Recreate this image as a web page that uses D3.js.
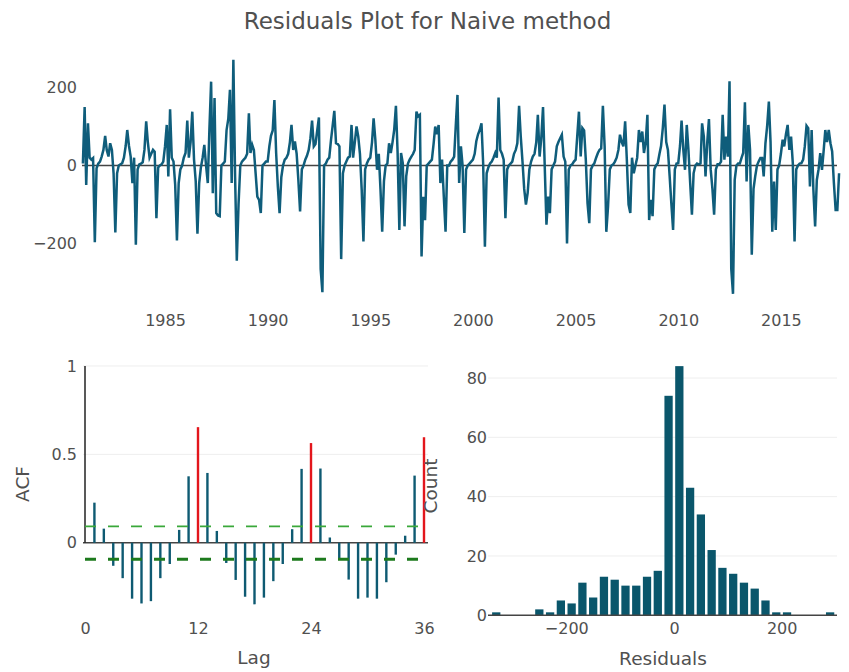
<!DOCTYPE html>
<html>
<head>
<meta charset="utf-8">
<script src="https://cdn.jsdelivr.net/npm/d3@7"></script>
<style>
  body { margin: 0; background: white; }
  svg { display: block; }
</style>
</head>
<body>
<div id="chart"></div>
<script>
// Monthly residuals of the naive forecast, Jan 1981 onwards
var residuals = [
  5, 150, -50, 108, 20, 15, 19, -197, -7, 5, 10, 23,        // 1981
  40, 76, 40, 23, 57, 40, -20, -172, -20, 0, 3, 6,          // 1982
  20, 50, 91, 50, 23, -45, 20, -203, -10, 3, 5, 8,          // 1983
  40, 113, 60, 20, 30, 40, 35, -135, -5, 0, 3, 10,          // 1984
  49, 104, -28, 144, 20, 10, -50, -192, -45, -10, 0, 20,    // 1985
  32, 115, 20, 60, 138, 15, -40, -175, -45, -5, 20, 53,     // 1986
  0, -45, 90, 215, -71, 173, -122, -128, -130, 0, 5, 10,    // 1987
  91, 120, 194, -45, 271, -30, -244, -100, 0, 10, 15, 20,   // 1988
  30, 134, 32, 53, 40, -20, -80, -88, -122, 0, 5, 10,       // 1989
  10, 50, 76, 90, 168, 32, -54, -122, -30, 0, 15, 20,       // 1990
  30, 60, 104, 40, 62, 30, -37, -118, -10, 0, 15, 25,       // 1991
  40, 70, 115, 49, 55, 90, 123, -265, -325, 0, 5, 15,       // 1992
  20, 66, 100, 140, 57, 55, 49, -240, -20, 0, 10, 20,       // 1993
  23, 104, 20, 60, 100, 74, 30, -62, -195, -10, 5, 15,      // 1994
  20, 60, 121, 66, -11, 30, -60, -170, -40, 0, 5, 57,       // 1995
  32, 60, 91, 153, 32, -165, 32, 6, -156, -28, 5, 15,       // 1996
  23, 30, 40, 138, 126, 130, -233, -80, -140, 0, 5, 10,     // 1997
  15, 57, 100, 80, 104, -45, 15, -80, -170, 0, 0, 10,       // 1998
  15, 23, 100, 181, -45, 49, 0, -173, -10, 0, 5, 10,        // 1999
  15, 30, 62, 80, 91, 108, 5, -208, -20, -5, 5, 10,         // 2000
  20, 32, 20, 174, 40, 30, 15, -135, -10, 0, 5, 10,         // 2001
  30, 40, 57, 153, 74, 10, -60, -100, -70, -10, 10, 23,     // 2002
  30, 60, 130, 23, 70, 150, 0, -152, -80, -122, -10, 0,     // 2003
  10, 49, 60, 70, 79, 23, 10, -200, -10, 0, 3, 10,          // 2004
  15, 80, 138, 23, 96, 90, 15, -97, -148, -10, 0, 6,        // 2005
  20, 32, 40, 44, 153, 49, -170, -105, -10, 0, 3, 10,       // 2006
  20, 40, 79, 60, 49, 113, 15, -100, -122, 20, -20, 0,      // 2007
  20, 91, 60, 87, 32, 60, 130, -140, -88, -130, -10, 0,     // 2008
  6, 30, 50, 96, 156, 60, 40, -28, -100, -165, -10, 5,      // 2009
  6, 50, 115, 40, -11, 104, 40, -45, -126, -20, 0, 5,       // 2010
  3, 5, 108, 74, -28, 60, 119, -10, -60, -126, -10, 3,      // 2011
  3, 10, 130, 15, 74, 23, 216, -265, -329, -37, 0, 5,       // 2012
  5, 20, 32, 162, -41, 104, 40, -229, -60, -28, 0, 10,      // 2013
  19, 19, -28, 57, 100, 164, 60, -170, -41, -165, -10, 0,   // 2014
  30, 66, 49, 80, 104, 40, 74, 6, -195, -10, 0, 5,          // 2015
  6, 15, 49, 102, 96, -54, 91, -62, -156, -37, -10, 32,     // 2016
  -11, 40, 91, 60, 91, 57, 36, -45, -114, -114, -20         // 2017
];
var startYear = 1981;
var yearTicks = [1985, 1990, 1995, 2000, 2005, 2010, 2015];
var resTicks = [-200, 0, 200];

// ACF by lag 0..36
var acfValues = [1, 0.227, 0.08, -0.13, -0.2, -0.316, -0.343, -0.33, -0.2, -0.12,
  0.073, 0.376, 0.654, 0.395, 0.067, -0.114, -0.21, -0.305, -0.348, -0.31,
  -0.217, -0.12, 0.077, 0.418, 0.564, 0.42, 0.03, -0.09, -0.208, -0.316,
  -0.31, -0.316, -0.223, -0.067, 0.04, 0.38, 0.597];
var seasonalLags = [12, 24, 36];
var acfBound = 0.093;
var lagTicks = [0, 12, 24, 36];
var acfTicks = [0, 0.5, 1];

// Histogram of residuals, bins of width 20
var binStarts = [-340, -320, -300, -280, -260, -240, -220, -200, -180, -160, -140, -120,
  -100, -80, -60, -40, -20, 0, 20, 40, 60, 80, 100, 120, 140, 160, 180, 200, 220, 240, 260, 280];
var binCounts = [1, 0, 0, 0, 2, 1, 5, 4, 11, 6, 13, 12,
  10, 10, 13, 15, 74, 84, 43, 34, 22, 16, 14, 11, 9, 5, 1, 1, 0, 0, 0, 1];
var binWidth = 20;
var countTicks = [0, 20, 40, 60, 80];
var histTicks = [-200, 0, 200];

var FONT = "'DejaVu Sans', Verdana, sans-serif";
var TXT = "#505050";
var TEAL = "#0f5d7b";
var BAR = "#0a566b";
var GRID = "#eeeeee";

var svg = d3.select("#chart").append("svg")
    .attr("width", 849)
    .attr("height", 672)
    .style("font-family", FONT);

function styleAxis(g, size) {
    g.select(".domain").remove();
    g.selectAll("text")
	.attr("font-size", size)
	.attr("font-family", FONT)
	.attr("fill", TXT);
}

// Title
svg.append("text")
    .attr("x", 427.5)
    .attr("y", 29)
    .attr("text-anchor", "middle")
    .attr("font-size", 23)
    .attr("fill", TXT)
    .text("Residuals Plot for Naive method");

// ---------- Top: residual time series ----------
var series = residuals.map(function(v, i) {
    return {date: new Date(startYear, i, 1), value: v};
});
var xTime = d3.scaleTime()
    .domain([new Date(1981, 0, 1), new Date(2018, 0, 1)])
    .range([82.9, 842.5]);
var yRes = d3.scaleLinear()
    .domain([-200, 200])
    .range([243.5, 87.5]);

svg.append("g")
    .attr("transform", "translate(0,305)")
    .call(d3.axisBottom(xTime)
	  .tickValues(yearTicks.map(function(y) { return new Date(y, 0, 1); }))
	  .tickFormat(d3.timeFormat("%Y"))
	  .tickSize(0).tickPadding(10))
    .call(styleAxis, 16);

svg.append("g")
    .attr("transform", "translate(82,0)")
    .call(d3.axisLeft(yRes).tickValues(resTicks).tickSize(0).tickPadding(5))
    .call(styleAxis, 16);

svg.append("line")
    .attr("x1", 82).attr("x2", 837)
    .attr("y1", yRes(0)).attr("y2", yRes(0))
    .attr("stroke", "#444").attr("stroke-width", 1.5);

svg.append("path")
    .datum(series)
    .attr("fill", "none")
    .attr("stroke", TEAL)
    .attr("stroke-width", 2.5)
    .attr("d", d3.line()
	  .x(function(d) { return xTime(d.date); })
	  .y(function(d) { return yRes(d.value); }));

// ---------- Bottom left: ACF ----------
var xLag = d3.scaleLinear().domain([0, 36]).range([85, 424]);
var yAcf = d3.scaleLinear().domain([-0.41, 1.075]).range([615.3, 352.7]);

svg.append("g").selectAll("line")
    .data([0.5, 1])
    .enter().append("line")
    .attr("x1", 83).attr("x2", 428)
    .attr("y1", function(d) { return yAcf(d); })
    .attr("y2", function(d) { return yAcf(d); })
    .attr("stroke", GRID).attr("stroke-width", 1);

svg.append("g")
    .attr("transform", "translate(0,612.6)")
    .call(d3.axisBottom(xLag).tickValues(lagTicks).tickSize(0).tickPadding(10))
    .call(styleAxis, 16);

svg.append("g")
    .attr("transform", "translate(84,0)")
    .call(d3.axisLeft(yAcf).tickValues(acfTicks).tickFormat(d3.format("~g")).tickSize(0).tickPadding(7))
    .call(styleAxis, 16);

svg.append("line")
    .attr("x1", 83).attr("x2", 428)
    .attr("y1", yAcf(0)).attr("y2", yAcf(0))
    .attr("stroke", "#444").attr("stroke-width", 1.5);

svg.append("g").selectAll("line")
    .data(acfValues)
    .enter().append("line")
    .attr("x1", function(d, i) { return xLag(i); })
    .attr("x2", function(d, i) { return xLag(i); })
    .attr("y1", yAcf(0))
    .attr("y2", function(d) { return yAcf(d); })
    .attr("stroke", function(d, i) {
	if (i == 0) return "#222";
	return seasonalLags.indexOf(i) >= 0 ? "#e3161c" : "#0e5a72";
    })
    .attr("stroke-width", function(d, i) { return i == 0 ? 1.5 : 2.4; });

// confidence bounds
svg.append("line")
    .attr("x1", xLag(0)).attr("x2", xLag(36))
    .attr("y1", yAcf(acfBound)).attr("y2", yAcf(acfBound))
    .attr("stroke", "#3aa83a").attr("stroke-width", 1.6)
    .attr("stroke-dasharray", "11,12");
svg.append("line")
    .attr("x1", xLag(0)).attr("x2", xLag(36))
    .attr("y1", yAcf(-acfBound)).attr("y2", yAcf(-acfBound))
    .attr("stroke", "#1d7a1d").attr("stroke-width", 3)
    .attr("stroke-dasharray", "11,12");

svg.append("text")
    .attr("transform", "translate(29,484) rotate(-90)")
    .attr("text-anchor", "middle")
    .attr("font-size", 18.5).attr("fill", TXT)
    .text("ACF");
svg.append("text")
    .attr("x", 254).attr("y", 664)
    .attr("text-anchor", "middle")
    .attr("font-size", 18.5).attr("fill", TXT)
    .text("Lag");

// ---------- Bottom right: histogram ----------
var xHist = d3.scaleLinear().domain([0, 200]).range([674, 781.7]);
var yCount = d3.scaleLinear().domain([0, 80]).range([615.3, 378]);

svg.append("g").selectAll("line")
    .data(countTicks.slice(1))
    .enter().append("line")
    .attr("x1", 488).attr("x2", 837)
    .attr("y1", function(d) { return yCount(d); })
    .attr("y2", function(d) { return yCount(d); })
    .attr("stroke", GRID).attr("stroke-width", 1);

svg.append("g")
    .attr("transform", "translate(0,612.6)")
    .call(d3.axisBottom(xHist).tickValues(histTicks).tickSize(0).tickPadding(10))
    .call(styleAxis, 16);

svg.append("g")
    .attr("transform", "translate(488,0)")
    .call(d3.axisLeft(yCount).tickValues(countTicks).tickSize(0).tickPadding(1))
    .call(styleAxis, 16);

svg.append("g").selectAll("rect")
    .data(binCounts)
    .enter().append("rect")
    .attr("x", function(d, i) { return xHist(binStarts[i]) + 1.2; })
    .attr("width", function(d, i) { return xHist(binStarts[i] + binWidth) - xHist(binStarts[i]) - 2.5; })
    .attr("y", function(d) { return yCount(d); })
    .attr("height", function(d) { return yCount(0) - yCount(d); })
    .attr("fill", BAR);

svg.append("line")
    .attr("x1", 488).attr("x2", 837)
    .attr("y1", yCount(0)).attr("y2", yCount(0))
    .attr("stroke", "#444").attr("stroke-width", 1.5);

svg.append("text")
    .attr("transform", "translate(437,486) rotate(-90)")
    .attr("text-anchor", "middle")
    .attr("font-size", 18.5).attr("fill", TXT)
    .text("Count");
svg.append("text")
    .attr("x", 663).attr("y", 665)
    .attr("text-anchor", "middle")
    .attr("font-size", 18.5).attr("fill", TXT)
    .text("Residuals");
</script>
</body>
</html>
